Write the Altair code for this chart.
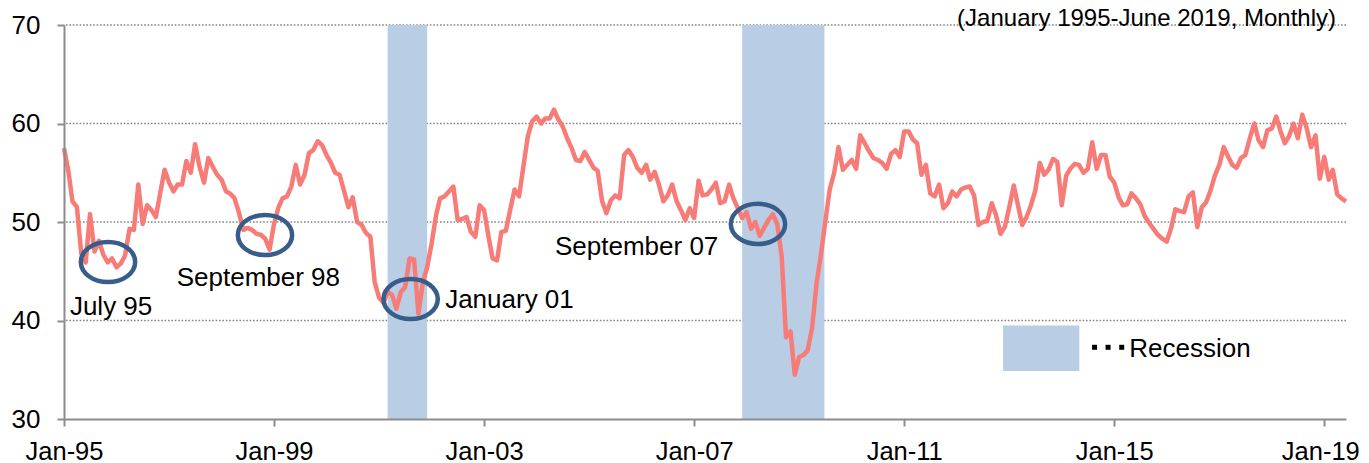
import altair as alt
import pandas as pd

# ---------------- data ----------------
start_month = "1995-01-01"

pmi_1995_1999 = [
    57.5, 55.1, 52.1, 51.5, 46.8, 45.9, 50.8, 47.0, 48.1, 46.7, 45.9, 46.3,  # 1995
    45.4, 45.8, 46.6, 49.3, 49.2, 53.8, 49.8, 51.7, 51.2, 50.5, 53.0, 55.3,  # 1996
    54.0, 53.1, 53.8, 53.8, 56.2, 55.0, 57.9, 55.6, 54.0, 56.5, 55.6, 54.8,  # 1997
    54.3, 53.1, 52.9, 52.4, 51.0, 49.2, 49.4, 49.2, 48.8, 48.7, 48.3, 47.2,  # 1998
    49.8, 51.5, 52.4, 52.6, 53.6, 55.8, 53.8, 54.8, 57.0, 57.3, 58.2, 57.8,  # 1999
]
pmi_2000_2004 = [
    56.8, 56.0, 55.0, 54.8, 53.2, 51.5, 52.5, 50.0, 49.7, 48.9, 48.5, 43.9,  # 2000
    42.3, 41.8, 42.9, 42.6, 41.2, 42.9, 43.4, 46.3, 46.2, 40.7, 43.9, 45.4,  # 2001
    47.8, 50.7, 52.4, 52.6, 53.1, 53.6, 50.2, 50.3, 50.5, 49.0, 48.5, 51.7,  # 2002
    51.2, 48.5, 46.3, 46.1, 49.0, 49.1, 51.2, 53.3, 52.6, 55.6, 58.7, 60.2,  # 2003
    60.7, 60.0, 60.5, 60.5, 61.4, 60.4, 59.7, 58.5, 57.5, 56.3, 56.2, 57.1,  # 2004
]
pmi_2005_2009 = [
    56.3, 55.5, 55.2, 52.1, 50.9, 52.2, 52.7, 52.4, 56.8, 57.3, 56.6, 55.5,  # 2005
    55.0, 55.8, 54.3, 55.1, 53.8, 52.1, 52.7, 53.8, 52.1, 51.2, 50.2, 51.4,  # 2006
    50.4, 54.2, 52.7, 52.8, 53.3, 54.0, 51.9, 52.1, 53.8, 52.4, 51.4, 50.4,  # 2007
    51.0, 49.3, 50.0, 48.6, 49.4, 50.2, 50.8, 49.8, 46.5, 38.3, 38.9, 34.5,  # 2008
    36.3, 36.5, 37.0, 39.3, 43.7, 46.7, 50.0, 53.3, 55.0, 57.6, 55.3, 55.8,  # 2009
]
pmi_2010_2014 = [
    56.3, 55.4, 58.8, 58.0, 57.2, 56.5, 56.3, 56.0, 55.4, 56.9, 57.3, 56.6,  # 2010
    59.2, 59.2, 58.4, 58.0, 54.8, 55.8, 52.9, 52.6, 53.8, 51.4, 51.9, 53.1,  # 2011
    52.6, 53.3, 53.5, 53.6, 52.7, 49.7, 50.0, 50.1, 51.9, 50.7, 48.8, 49.5,  # 2012
    51.5, 53.7, 51.8, 49.7, 50.5, 51.7, 53.2, 56.0, 54.8, 55.3, 56.4, 56.1,  # 2013
    51.7, 54.7, 55.4, 55.9, 55.8, 55.0, 55.4, 58.1, 55.4, 56.8, 56.8, 54.6,  # 2014
]
pmi_2015_2019 = [
    54.0, 52.5, 51.7, 51.8, 52.9, 52.4, 51.8, 50.6, 49.9, 49.3, 48.7, 48.3,  # 2015
    48.0, 49.4, 51.3, 51.1, 51.0, 52.6, 53.0, 49.5, 51.5, 52.0, 53.2, 54.7,  # 2016
    55.8, 57.6, 56.7, 55.8, 55.5, 56.5, 56.8, 58.5, 60.0, 58.3, 57.6, 59.3,  # 2017
    59.5, 60.7, 59.3, 58.0, 58.7, 60.0, 58.5, 60.9, 59.5, 57.6, 58.8, 54.4,  # 2018
    56.6, 54.3, 55.3, 52.8, 52.4, 52.1,                                      # 2019
]

recession_start = ["2001-03-01", "2007-12-01"]
recession_end = ["2001-12-01", "2009-06-25"]

grid_values = [40, 50, 60, 70]
y_ticks = [30, 40, 50, 60, 70]
x_tick_years = [1995, 1999, 2003, 2007, 2011, 2015, 2019]

# annotations (placed in data space: date, value)
note_labels = ["July 95", "September 98", "January 01", "September 07"]
note_text_dates = ["1995-02-11", "1997-02-23", "2002-04-05", "2004-05-08"]
note_text_values = [40.56, 43.5, 41.27, 46.65]
ring_dates = ["1995-11-03", "1998-10-30", "2001-08-08", "2008-03-20"]
ring_values = [45.94, 48.68, 42.18, 49.8]

legend_label = "Recession"
legend_box_dates = ["2012-11-19", "2014-05-03"]
legend_box_values = [39.5, 34.87]
legend_dot_dates = ["2014-08-17", "2014-11-19", "2015-02-22"]
legend_dot_value = 37.28
legend_text_date = "2015-04-16"
legend_text_value = 36.29

subtitle = "(January 1995-June 2019, Monthly)"
subtitle_date = "2012-01-04"
subtitle_value = 69.87

# ---------------- tables ----------------
pmi = pmi_1995_1999 + pmi_2000_2004 + pmi_2005_2009 + pmi_2010_2014 + pmi_2015_2019
line_df = pd.DataFrame({
    "date": pd.date_range(start_month, periods=len(pmi), freq="MS"),
    "pmi": pmi,
})
rec_df = pd.DataFrame({"start": pd.to_datetime(recession_start),
                       "end": pd.to_datetime(recession_end)})
grid_df = pd.DataFrame({"v": grid_values})
notes_df = pd.DataFrame({"date": pd.to_datetime(note_text_dates),
                         "v": note_text_values, "label": note_labels})
rings_df = pd.DataFrame({"date": pd.to_datetime(ring_dates), "v": ring_values})
box_df = pd.DataFrame({"d1": [pd.Timestamp(legend_box_dates[0])],
                       "d2": [pd.Timestamp(legend_box_dates[1])],
                       "v1": [legend_box_values[0]], "v2": [legend_box_values[1]]})
dots_df = pd.DataFrame({"date": pd.to_datetime(legend_dot_dates),
                        "v": [legend_dot_value] * len(legend_dot_dates)})
legend_text_df = pd.DataFrame({"date": [pd.Timestamp(legend_text_date)],
                               "v": [legend_text_value], "label": [legend_label]})
subtitle_df = pd.DataFrame({"date": [pd.Timestamp(subtitle_date)],
                            "v": [subtitle_value], "label": [subtitle]})

# ---------------- scales / axes ----------------
FONT = "Liberation Sans"
AX_GRAY = "#8c8c8c"

x_scale = alt.Scale(domain=[alt.DateTime(year=1995, month=1, date=1),
                            alt.DateTime(year=2019, month=6, date=1)], nice=False)
y_scale = alt.Scale(domain=[30, 70], nice=False, zero=False)

x_axis = alt.Axis(values=[alt.DateTime(year=y, month=1, date=1) for y in x_tick_years],
                  format="%b-%y", title=None, grid=False, domainColor=AX_GRAY,
                  domainWidth=2, tickColor=AX_GRAY, tickWidth=2, tickSize=7,
                  labelFont=FONT, labelFontSize=25.5, labelColor="black",
                  labelPadding=13, labelFlush=False, labelOverlap=False,
                  labelOffset={"condition": {"test": "year(datum.value) >= 2019",
                                             "value": -4}, "value": 0},
                  zindex=1)
y_axis = alt.Axis(values=y_ticks, title=None, grid=False, domainColor=AX_GRAY,
                  domainWidth=2, tickColor=AX_GRAY, tickWidth=2, tickSize=7,
                  labelFont=FONT, labelFontSize=26, labelColor="black",
                  labelPadding=17, zindex=1)

X = lambda f: alt.X(f"{f}:T", scale=x_scale, axis=x_axis)
Y = lambda f: alt.Y(f"{f}:Q", scale=y_scale, axis=y_axis)

# ---------------- layers ----------------
grid = alt.Chart(grid_df).mark_rule(color="#858585", strokeWidth=1.5,
                                    strokeDash=[1.6, 1.8]).encode(y=Y("v"))

bands = alt.Chart(rec_df).mark_rect(color="#B9CDE5", opacity=1).encode(
    x=X("start"), x2="end", y=alt.datum(70), y2=alt.datum(30))

line = alt.Chart(line_df).mark_line(color="#F77B77", strokeWidth=4.5,
                                    strokeJoin="round").encode(x=X("date"), y=Y("pmi"))

ELLIPSE = "M -1 0 A 1 0.74 0 1 1 1 0 A 1 0.74 0 1 1 -1 0 Z"
rings = alt.Chart(rings_df).mark_point(shape=ELLIPSE, size=2950, filled=False,
                                       stroke="#385D8A", strokeWidth=4.5,
                                       opacity=1).encode(x=X("date"), y=Y("v"))

notes = alt.Chart(notes_df).mark_text(align="left", baseline="alphabetic",
                                      font=FONT, fontSize=26, color="black").encode(
    x=X("date"), y=Y("v"), text="label:N")

box = alt.Chart(box_df).mark_rect(color="#B9CDE5", opacity=1).encode(
    x=X("d1"), x2="d2", y=Y("v1"), y2="v2")

dots = alt.Chart(dots_df).mark_square(size=25, color="black", opacity=1).encode(
    x=X("date"), y=Y("v"))

legend_text = alt.Chart(legend_text_df).mark_text(
    align="left", baseline="alphabetic", font=FONT, fontSize=26, color="black").encode(
    x=X("date"), y=Y("v"), text="label:N")

sub = alt.Chart(subtitle_df).mark_text(
    align="left", baseline="alphabetic", font=FONT, fontSize=24, color="black").encode(
    x=X("date"), y=Y("v"), text="label:N")

chart = alt.layer(grid, bands, line, rings, notes, box, dots, legend_text, sub).properties(
    width=1282, height=394,
    autosize=alt.AutoSizeParams(type="none"),
    padding={"left": 56, "top": 17, "right": 15, "bottom": 46},
    background="white",
).configure_view(stroke=None)

chart.save("out.html", embed_options={"renderer": "svg", "actions": False})
